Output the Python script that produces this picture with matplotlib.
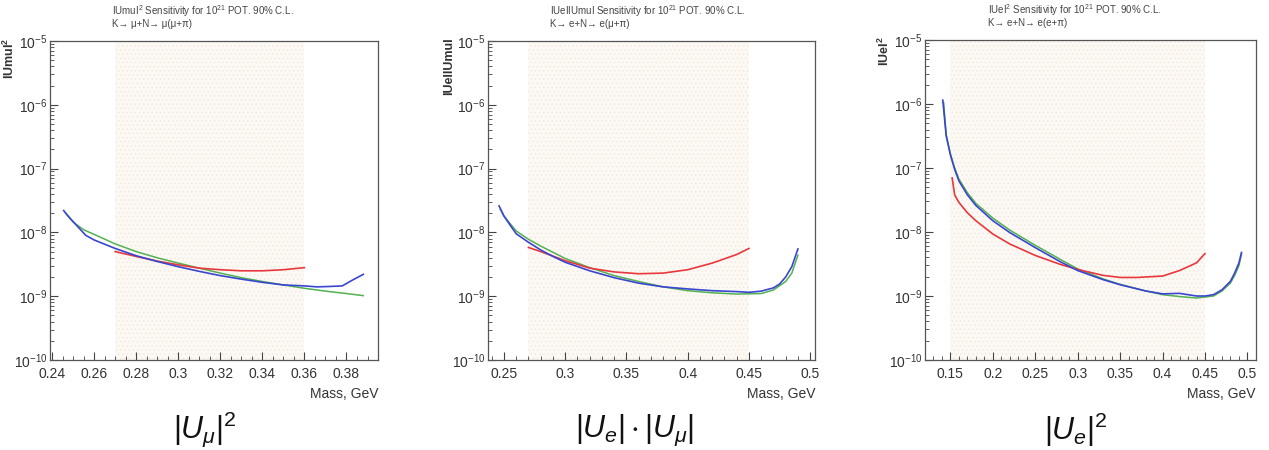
import matplotlib
matplotlib.use("Agg")
import matplotlib.pyplot as plt
from matplotlib.ticker import LogLocator, LogFormatterMathtext, MultipleLocator, NullFormatter

plt.rcParams["font.family"] = ["Liberation Sans", "DejaVu Sans"]
plt.rcParams["mathtext.fontset"] = "custom"
plt.rcParams["mathtext.rm"] = "Liberation Sans"
plt.rcParams["mathtext.it"] = "Liberation Sans:italic"
plt.rcParams["mathtext.default"] = "regular"
plt.rcParams["hatch.linewidth"] = 0.4

# ---- panel 1: |Umu|^2 ----
mm_blue_x = [0.2455, 0.247, 0.249, 0.252, 0.256, 0.26, 0.27, 0.28, 0.29, 0.30, 0.31,
             0.32, 0.33, 0.34, 0.35, 0.36, 0.366, 0.372, 0.378, 0.383, 0.388]
mm_blue_y = [2.2e-8, 1.9e-8, 1.6e-8, 1.25e-8, 9.0e-9, 7.6e-9, 5.6e-9, 4.3e-9, 3.5e-9, 2.9e-9,
             2.45e-9, 2.1e-9, 1.85e-9, 1.65e-9, 1.5e-9, 1.45e-9, 1.4e-9, 1.42e-9, 1.45e-9,
             1.8e-9, 2.2e-9]
mm_green_x = [0.2465, 0.25, 0.255, 0.26, 0.27, 0.28, 0.29, 0.30, 0.31, 0.32, 0.33, 0.34,
              0.35, 0.36, 0.37, 0.38, 0.388]
mm_green_y = [2.0e-8, 1.45e-8, 1.1e-8, 9.3e-9, 6.6e-9, 5.0e-9, 4.0e-9, 3.3e-9, 2.75e-9,
              2.3e-9, 1.95e-9, 1.7e-9, 1.5e-9, 1.33e-9, 1.2e-9, 1.1e-9, 1.02e-9]
mm_red_x = [0.27, 0.28, 0.29, 0.30, 0.31, 0.32, 0.33, 0.34, 0.35, 0.36]
mm_red_y = [5.0e-9, 4.2e-9, 3.55e-9, 3.1e-9, 2.75e-9, 2.6e-9, 2.5e-9, 2.5e-9, 2.6e-9, 2.8e-9]

# ---- panel 2: |Ue||Umu| ----
em_blue_x = [0.246, 0.25, 0.255, 0.26, 0.27, 0.28, 0.29, 0.30, 0.32, 0.34, 0.36, 0.38, 0.40,
             0.42, 0.44, 0.45, 0.46, 0.47, 0.475, 0.48, 0.485, 0.49]
em_blue_y = [2.6e-8, 1.8e-8, 1.3e-8, 9.5e-9, 7.0e-9, 5.3e-9, 4.2e-9, 3.4e-9, 2.5e-9, 1.95e-9,
             1.6e-9, 1.4e-9, 1.3e-9, 1.22e-9, 1.18e-9, 1.15e-9, 1.2e-9, 1.35e-9, 1.55e-9,
             2.0e-9, 2.9e-9, 5.5e-9]
em_green_x = [0.247, 0.25, 0.26, 0.27, 0.28, 0.30, 0.32, 0.34, 0.36, 0.38, 0.40, 0.42, 0.44,
              0.46, 0.47, 0.48, 0.485, 0.49]
em_green_y = [2.3e-8, 1.8e-8, 1.05e-8, 7.8e-9, 6.1e-9, 3.9e-9, 2.8e-9, 2.1e-9, 1.7e-9, 1.4e-9,
              1.22e-9, 1.13e-9, 1.08e-9, 1.1e-9, 1.25e-9, 1.7e-9, 2.3e-9, 4.4e-9]
em_red_x = [0.27, 0.28, 0.30, 0.32, 0.34, 0.36, 0.38, 0.40, 0.42, 0.44, 0.45]
em_red_y = [5.8e-9, 5.0e-9, 3.6e-9, 2.75e-9, 2.4e-9, 2.25e-9, 2.3e-9, 2.6e-9, 3.3e-9, 4.5e-9, 5.6e-9]

# ---- panel 3: |Ue|^2 ----
ee_blue_x = [0.141, 0.145, 0.15, 0.155, 0.16, 0.17, 0.18, 0.2, 0.22, 0.25, 0.28, 0.3, 0.33,
             0.35, 0.38, 0.4, 0.42, 0.44, 0.45, 0.46, 0.47, 0.48, 0.485, 0.49, 0.493]
ee_blue_y = [1.15e-6, 3.2e-7, 1.6e-7, 9.5e-8, 6.3e-8, 3.8e-8, 2.6e-8, 1.5e-8, 9.8e-9, 5.7e-9,
             3.4e-9, 2.5e-9, 1.8e-9, 1.5e-9, 1.2e-9, 1.08e-9, 1.1e-9, 1.0e-9, 1.0e-9, 1.05e-9,
             1.25e-9, 1.7e-9, 2.3e-9, 3.3e-9, 4.8e-9]
ee_green_x = [0.142, 0.145, 0.15, 0.155, 0.16, 0.17, 0.18, 0.2, 0.22, 0.25, 0.28, 0.3, 0.33,
              0.35, 0.38, 0.4, 0.42, 0.44, 0.46, 0.47, 0.48, 0.485, 0.49, 0.493]
ee_green_y = [1.05e-6, 3.3e-7, 1.65e-7, 1.0e-7, 6.7e-8, 4.1e-8, 2.8e-8, 1.65e-8, 1.07e-8,
              6.2e-9, 3.7e-9, 2.65e-9, 1.85e-9, 1.52e-9, 1.2e-9, 1.05e-9, 9.8e-10, 9.3e-10,
              1.0e-9, 1.2e-9, 1.6e-9, 2.1e-9, 3.0e-9, 4.5e-9]
ee_red_x = [0.152, 0.155, 0.16, 0.17, 0.18, 0.2, 0.22, 0.25, 0.28, 0.3, 0.33, 0.35, 0.37,
            0.4, 0.42, 0.44, 0.45]
ee_red_y = [7.0e-8, 3.8e-8, 2.9e-8, 2.0e-8, 1.5e-8, 9.3e-9, 6.5e-9, 4.3e-9, 3.1e-9, 2.6e-9,
            2.1e-9, 1.95e-9, 1.95e-9, 2.05e-9, 2.5e-9, 3.3e-9, 4.6e-9]

panels = [
    dict(rect=[0.0394, 0.2, 0.2585, 0.709], xlim=(0.239, 0.395), band=(0.27, 0.36),
         major=0.02, minor=0.005,
         ylabel="IUmuI$^{2}$",
         title1="IUmuI$^{2}$ Sensitivity for 10$^{21}$ POT. 90% C.L.",
         title2="K\u2192 \u03bc+N\u2192 \u03bc(\u03bc+\u03c0)",
         caption=r"$|\mathit{U}_{\mathit{\mu}}|^{2}$", cap_x=0.161,
         red=(mm_red_x, mm_red_y), green=(mm_green_x, mm_green_y), blue=(mm_blue_x, mm_blue_y)),
    dict(rect=[0.3846, 0.2, 0.2577, 0.709], xlim=(0.237, 0.504), band=(0.27, 0.45),
         major=0.05, minor=0.01,
         ylabel="IUeIIUmuI",
         title1="IUeIIUmuI Sensitivity for 10$^{21}$ POT. 90% C.L.",
         title2="K\u2192 e+N\u2192 e(\u03bc+\u03c0)",
         caption=r"$|\mathit{U}_{\mathit{e}}|\cdot|\mathit{U}_{\mathit{\mu}}|$", cap_x=0.500,
         red=(em_red_x, em_red_y), green=(em_green_x, em_green_y), blue=(em_blue_x, em_blue_y)),
    dict(rect=[0.7289, 0.2, 0.2608, 0.711], xlim=(0.12, 0.51), band=(0.15, 0.45),
         major=0.05, minor=0.01,
         ylabel="IUeI$^{2}$",
         title1="IUeI$^{2}$ Sensitivity for 10$^{21}$ POT. 90% C.L.",
         title2="K\u2192 e+N\u2192 e(e+\u03c0)",
         caption=r"$|\mathit{U}_{\mathit{e}}|^{2}$", cap_x=0.848,
         red=(ee_red_x, ee_red_y), green=(ee_green_x, ee_green_y), blue=(ee_blue_x, ee_blue_y)),
]

fig = plt.figure(figsize=(12.69, 4.5), dpi=100)

for p in panels:
    ax = fig.add_axes(p["rect"])
    ax.set_yscale("log")
    ax.set_xlim(*p["xlim"])
    ax.set_ylim(1e-10, 1e-5)

    ax.axvspan(p["band"][0], p["band"][1], facecolor="#fcf9f4", edgecolor="#efe5d8",
               hatch="....", linewidth=0, zorder=0)

    ax.plot(*p["green"], color="#52b152", lw=1.1, zorder=2)
    ax.plot(*p["blue"], color="#3a45d0", lw=1.2, zorder=3)
    ax.plot(*p["red"], color="#e8383d", lw=1.2, zorder=2)

    ax.xaxis.set_major_locator(MultipleLocator(p["major"]))
    ax.xaxis.set_minor_locator(MultipleLocator(p["minor"]))
    ax.xaxis.set_major_formatter(plt.FuncFormatter(lambda v, _: "{:g}".format(round(v, 3))))
    ax.yaxis.set_major_locator(LogLocator(base=10, numticks=10))
    ax.yaxis.set_minor_locator(LogLocator(base=10, subs=range(2, 10), numticks=20))
    ax.yaxis.set_major_formatter(LogFormatterMathtext())
    ax.yaxis.set_minor_formatter(NullFormatter())
    ax.tick_params(which="both", direction="in", top=False, right=False, color="#444444",
                   labelsize=10, labelcolor="#333333", pad=2)
    ax.tick_params(axis="x", pad=5)
    ax.tick_params(which="major", length=6, width=0.8)
    ax.tick_params(which="minor", length=3, width=0.6)
    for s in ax.spines.values():
        s.set_color("#555555")
        s.set_linewidth(0.9)

    ax.text(1.0, -0.085, "Mass, GeV", transform=ax.transAxes, ha="right", va="top",
            fontsize=10, color="#333333")
    ax.text(-0.1, 1.01, p["ylabel"], transform=ax.transAxes, ha="right", va="top",
            rotation=90, fontsize=9, fontweight="bold", color="#333333")
    ax.text(0.19, 1.094, p["title1"], transform=ax.transAxes, ha="left", va="center",
            fontsize=7, color="#444444")
    ax.text(0.19, 1.053, p["title2"], transform=ax.transAxes, ha="left", va="center",
            fontsize=7, color="#444444")

    fig.text(p["cap_x"], 0.045, p["caption"], ha="center", va="center", fontsize=22,
             color="#111111")

fig.savefig("out.png", dpi=100)
plt.close(fig)
